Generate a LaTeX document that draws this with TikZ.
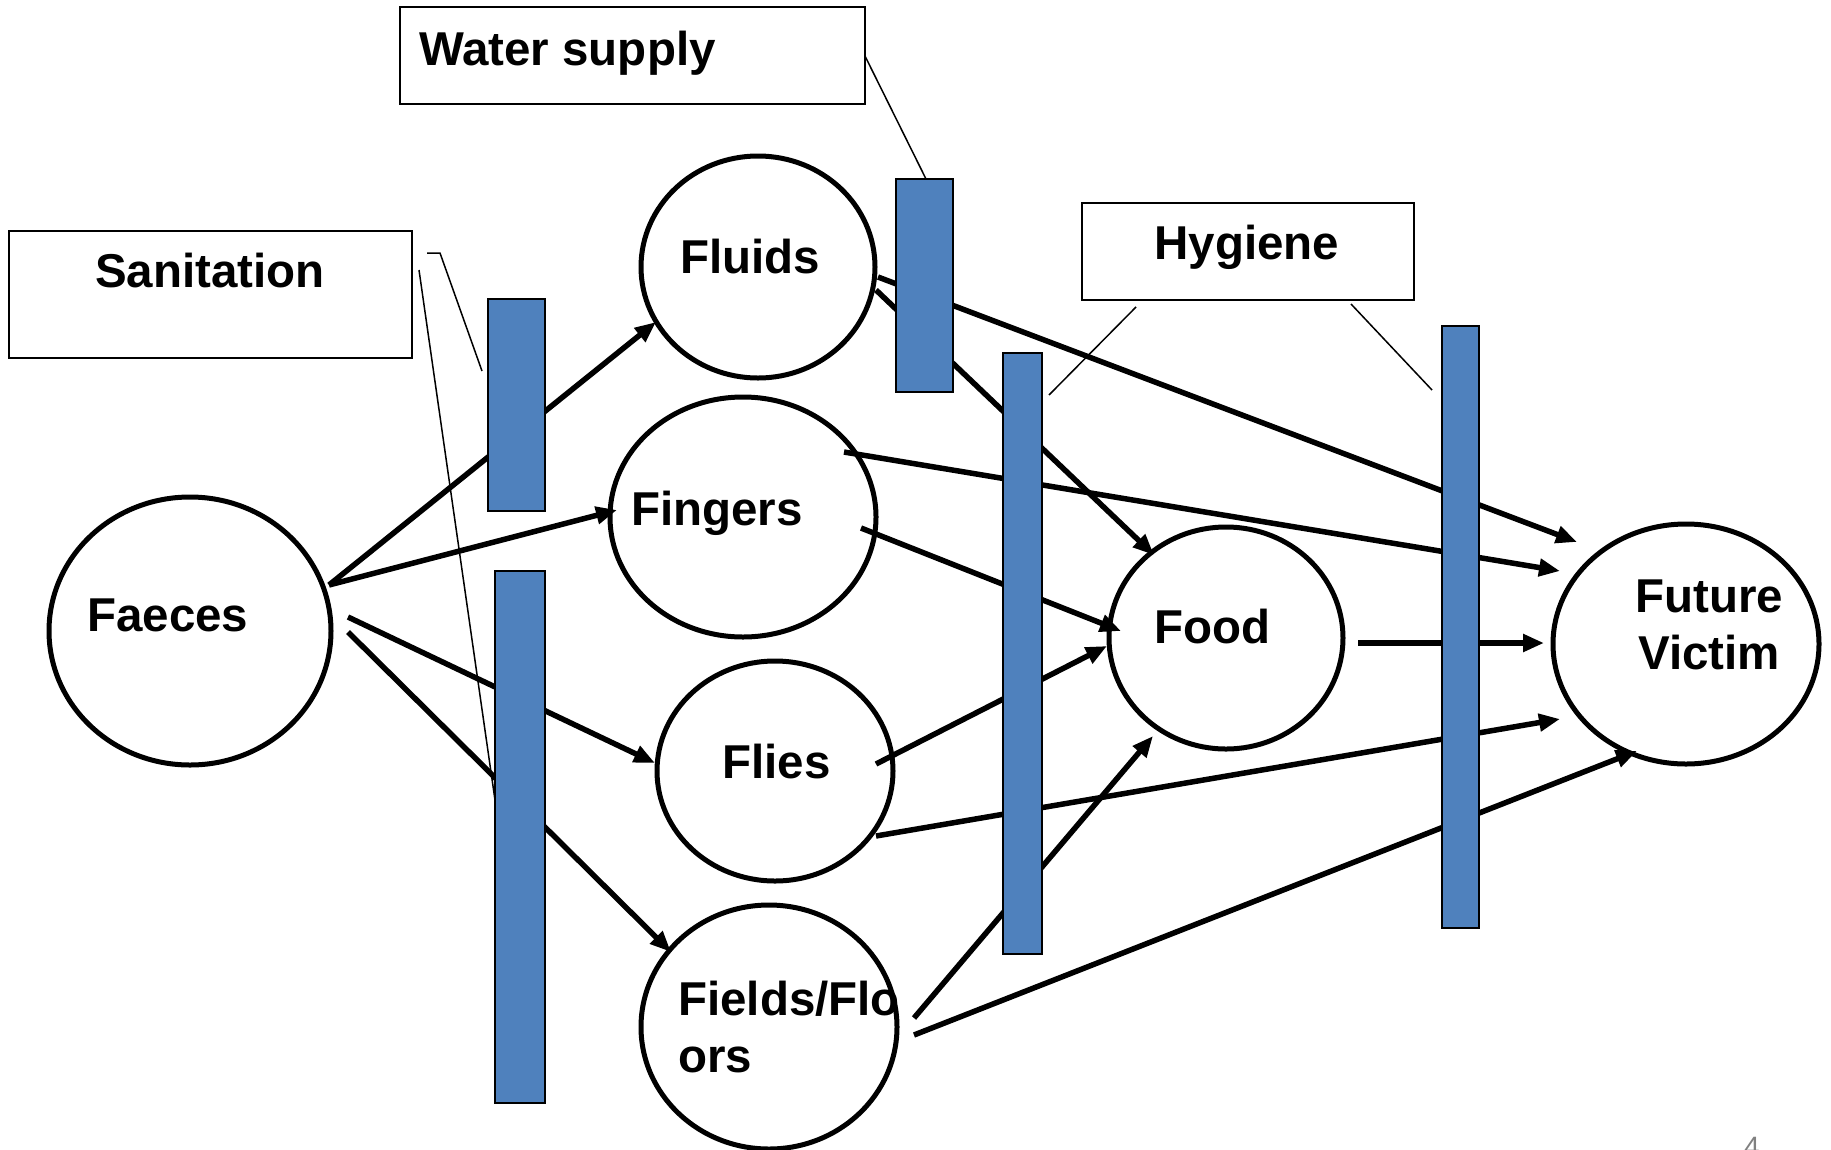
\documentclass[tikz,border=0pt]{standalone}
\usepackage{fontspec}
\setmainfont{Liberation Sans}
\usetikzlibrary{arrows.meta,shapes.geometric}
\definecolor{barblue}{HTML}{4F81BD}
\begin{document}
\begin{tikzpicture}[x=1pt,y=-1pt,
  lbl/.style={font=\fontsize{47.5}{57}\selectfont\bfseries, inner sep=0pt},
  blob/.style={draw, ellipse, line width=5pt, inner sep=0pt},
  barrect/.style={draw, fill=barblue, line width=2pt, inner sep=0pt, rectangle},
  tagbox/.style={draw, line width=2pt, inner sep=0pt, rectangle, fill=white},
  flowarr/.style={line width=5.5pt, -{Triangle[length=21pt,width=17pt]}},
  callout/.style={line width=1.5pt}
]
\useasboundingbox (0,0) rectangle (1831,1149);
\fill[white] (0,0) rectangle (1831,1149);

% circles
\node[blob, minimum width=282pt, minimum height=268pt] (faeces) at (190,631) {};
\node[blob, minimum width=234pt, minimum height=222pt] (fluids) at (758,267) {};
\node[blob, minimum width=266pt, minimum height=240pt] (fingers) at (743,517) {};
\node[blob, minimum width=236pt, minimum height=220pt] (flies) at (775,771) {};
\node[blob, minimum width=256pt, minimum height=244pt] (fields) at (769,1027) {};
\node[blob, minimum width=234pt, minimum height=222pt] (food) at (1226,638) {};
\node[blob, minimum width=266pt, minimum height=240pt] (victim) at (1686,644) {};

% labels
\node[lbl, anchor=base west] (faecestxt) at (87,631) {Faeces};
\node[lbl, anchor=base west] (fluidstxt) at (680,273) {Fluids};
\node[lbl, anchor=base west] (fingerstxt) at (631,525) {Fingers};
\node[lbl, anchor=base west] (fliestxt) at (722,778) {Flies};
\node[lbl, anchor=north west, align=left] (fieldstxt) at (678,981) {Fields/Flo\\ors};
\node[lbl, anchor=base west] (foodtxt) at (1154,643) {Food};
\node[lbl, anchor=north, align=center] (victimtxt) at (1709,580) {Future\\Victim};

% boxes
\node[tagbox, minimum width=465pt, minimum height=97pt] (waterbox) at (632.5,55.5) {};
\node[lbl, anchor=base west] (watertxt) at (419,65) {Water supply};
\node[tagbox, minimum width=403pt, minimum height=127pt] (sanbox) at (210.5,294.5) {};
\node[lbl, anchor=base] (santxt) at (210,287) {Sanitation};
\node[tagbox, minimum width=332pt, minimum height=97pt] (hygbox) at (1248,251.5) {};
\node[lbl, anchor=base] (hygtxt) at (1247,259) {Hygiene};

% connector end points
\coordinate (fa1) at (329,585);
\coordinate (fa2) at (348,617);
\coordinate (fa3) at (348,632);
\coordinate (tFluids) at (656,322);
\coordinate (tFingers) at (617,510);
\coordinate (tFlies) at (655,763);
\coordinate (tFields) at (671,952);
\coordinate (flu1) at (876,290);
\coordinate (flu2) at (878,277);
\coordinate (fin1) at (844,452);
\coordinate (fin2) at (861,528);
\coordinate (fli1) at (876,764);
\coordinate (fli2) at (876,836);
\coordinate (fie1) at (914,1018);
\coordinate (fie2) at (914,1035);
\coordinate (foo1) at (1358,643);
\coordinate (tFood1) at (1154,555);
\coordinate (tFood2) at (1121,631);
\coordinate (tFood3) at (1107,646);
\coordinate (tFood4) at (1153,736);
\coordinate (tVic1) at (1577,542);
\coordinate (tVic2) at (1560,571);
\coordinate (tVic3) at (1544,643);
\coordinate (tVic4) at (1560,719);
\coordinate (tVic5) at (1637,751);

% callout end points
\coordinate (sa0) at (427,253);
\coordinate (sa1) at (440,253);
\coordinate (sa2) at (482,371);
\coordinate (sb0) at (419,270);
\coordinate (sb1) at (495,800);
\coordinate (wa0) at (865,56);
\coordinate (wa1) at (926,179);
\coordinate (hl0) at (1136,307);
\coordinate (hl1) at (1049,395);
\coordinate (hr0) at (1351,304);
\coordinate (hr1) at (1432,390);

% flows
\draw[flowarr] (fa1) -- (tFluids);
\draw[flowarr] (fa1) -- (tFingers);
\draw[flowarr] (fa2) -- (tFlies);
\draw[flowarr] (fa3) -- (tFields);
\draw[flowarr] (flu1) -- (tFood1);
\draw[flowarr] (flu2) -- (tVic1);
\draw[flowarr] (fin1) -- (tVic2);
\draw[flowarr] (fin2) -- (tFood2);
\draw[flowarr] (fli1) -- (tFood3);
\draw[flowarr] (fli2) -- (tVic4);
\draw[flowarr] (fie1) -- (tFood4);
\draw[flowarr] (fie2) -- (tVic5);
\draw[flowarr] (foo1) -- (tVic3);

% callouts
\draw[callout] (sa0) -- (sa1) -- (sa2);
\draw[callout] (sb0) -- (sb1);
\draw[callout] (wa0) -- (wa1);
\draw[callout] (hl0) -- (hl1);
\draw[callout] (hr0) -- (hr1);

% barriers
\node[barrect, minimum width=57pt, minimum height=212pt] (bar1) at (516.5,405) {};
\node[barrect, minimum width=50pt, minimum height=532pt] (bar2) at (520,837) {};
\node[barrect, minimum width=57pt, minimum height=213pt] (bar3) at (924.5,285.5) {};
\node[barrect, minimum width=39pt, minimum height=601pt] (bar4) at (1022.5,653.5) {};
\node[barrect, minimum width=37pt, minimum height=602pt] (bar5) at (1460.5,627) {};

% page number (cut by the page edge, as in the reference)
\node[anchor=north west, inner sep=0pt, text=gray, font=\fontsize{28}{34}\selectfont] (pagenum) at (1744,1137) {4};
\end{tikzpicture}
\end{document}
